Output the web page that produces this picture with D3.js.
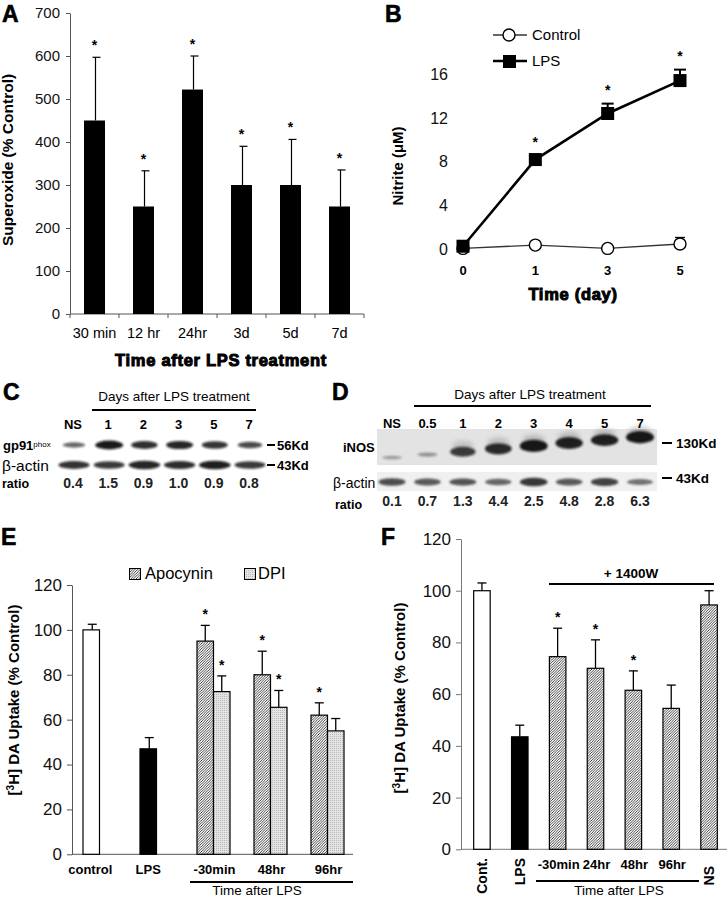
<!DOCTYPE html>
<html><head><meta charset="utf-8">
<script src="https://cdn.jsdelivr.net/npm/d3@7"></script>
<style>
body{margin:0;background:#fff;}
svg{display:block;font-family:"Liberation Sans",Arial,sans-serif;}
</style></head><body>
<script>
// ---------- DATA ----------
const aCategories = ["30 min","12 hr","24hr","3d","5d","7d"];
const aMeans = [450,250,522,300,300,250];
const aErrors = [147,83,78,90,106,85];
const aTicks = [0,100,200,300,400,500,600,700];

const bDays = ["0","1","3","5"];
const bControl = [0.1,0.4,0.1,0.5];
const bControlErr = [0,0,0,0.6];
const bLPS = [0.3,8.2,12.4,15.4];
const bLPSErr = [0,0.3,0.9,1.0];
const bSig = [false,true,true,true];
const bTicks = [0,4,8,12,16];

const cLanes = ["NS","1","2","3","5","7"];
const cRatios = ["0.4","1.5","0.9","1.0","0.9","0.8"];
const cGp91 = [0.45,1.0,0.85,0.9,0.8,0.65];
const cActin = [0.8,0.75,0.9,0.85,0.95,0.75];

const dLanes = ["NS","0.5","1","2","3","4","5","7"];
const dRatios = ["0.1","0.7","1.3","4.4","2.5","4.8","2.8","6.3"];
const dInos = [0.12,0.18,0.75,0.88,1.0,0.95,0.95,1.0];
const dActin = [0.75,0.65,0.7,0.55,0.95,0.65,0.85,0.45];

const eCategories = ["control","LPS","-30min","48hr","96hr"];
const eSingle = [100,47];
const eSingleErr = [2.5,5];
const eTreated = ["-30min","48hr","96hr"];
const eApocynin = [95,80,62];
const eApocyninErr = [7,10.5,5.5];
const eApocyninSig = [true,true,true];
const eDPI = [72.5,65.5,55];
const eDPIErr = [7,7.5,5.5];
const eDPISig = [true,true,false];
const eTicks = [0,20,40,60,80,100,120];

const fCategories = ["Cont.","LPS","-30min","24hr","48hr","96hr","NS"];
const fGroups = ["control","lps","w1400","w1400","w1400","w1400","w1400"];
const fMeans = [100,43.5,74.5,70,61.5,54.5,94.5];
const fErrors = [3,4.5,11,11,7.5,9,5.5];
const fSig = [false,false,true,true,true,false,false];
const fTicks = [0,20,40,60,80,100,120];

// ---------- SVG ----------
const W = 728, H = 899;
const svg = d3.select("body").append("svg").attr("width",W).attr("height",H);
const defs = svg.append("defs");
const P = 2.6;
const hatch = defs.append("pattern").attr("id","hatch").attr("patternUnits","userSpaceOnUse")
  .attr("width",P).attr("height",P);
hatch.append("rect").attr("width",P).attr("height",P).attr("fill","#fff");
hatch.append("path").attr("d",`M-1,1 l2,-2 M0,${P} l${P},-${P} M${P-1},${P+1} l2,-2`).attr("stroke","#1e1e1e").attr("stroke-width",0.85);
const dots = defs.append("pattern").attr("id","dots").attr("patternUnits","userSpaceOnUse")
  .attr("width",2).attr("height",2);
dots.append("rect").attr("width",2).attr("height",2).attr("fill","#e4e4e4");
dots.append("rect").attr("width",1).attr("height",1).attr("fill","#b8b8b8");
defs.append("filter").attr("id","blur").attr("x","-30%").attr("y","-100%").attr("width","160%").attr("height","300%")
  .append("feGaussianBlur").attr("stdDeviation",1.3);
defs.append("filter").attr("id","blur2").attr("x","-30%").attr("y","-100%").attr("width","160%").attr("height","300%")
  .append("feGaussianBlur").attr("stdDeviation",2.5);

function letter(t,x,y){
  svg.append("text").attr("x",x).attr("y",y).text(t).attr("font-size",23).attr("font-weight","bold")
    .attr("stroke","#000").attr("stroke-width",0.6);
}
function heavy(g,t,x,y,size){
  return g.append("text").attr("x",x).attr("y",y).attr("text-anchor","middle").text(t)
   .attr("font-size",size).attr("font-weight","bold").attr("stroke","#000").attr("stroke-width",1)
   .attr("letter-spacing",0.7);
}
function star(g,x,y){
  g.append("text").attr("x",x).attr("y",y).attr("text-anchor","middle").attr("font-size",14)
   .attr("font-weight","bold").text("*");
}
function errBar(g,x,y0,y1,cap,sw){
  g.append("line").attr("x1",x).attr("x2",x).attr("y1",y0).attr("y2",y1).attr("stroke","#000").attr("stroke-width",sw||1.3);
  g.append("line").attr("x1",x-cap/2).attr("x2",x+cap/2).attr("y1",y1).attr("y2",y1).attr("stroke","#000").attr("stroke-width",sw||1.3);
}

// ---------- PANEL A ----------
{
  const g = svg.append("g");
  const x = d3.scaleBand().domain(aCategories).range([70,364]);
  const y = d3.scaleLinear().domain([0,700]).range([314,13]);
  const bw = 21;
  const ax = g.append("g").attr("transform","translate(70,0)")
    .call(d3.axisLeft(y).tickValues(aTicks).tickSize(4).tickSizeOuter(0).tickPadding(6));
  ax.selectAll("text").attr("font-size",15).attr("font-family","Liberation Sans, Arial, sans-serif").attr("fill","#111");
  ax.selectAll("path,line").attr("stroke","#555");
  g.append("line").attr("x1",70).attr("x2",364).attr("y1",y(0)).attr("y2",y(0)).attr("stroke","#555");
  aCategories.concat(["end"]).forEach((c,i)=>{
    const xx = i<aCategories.length ? x(c) : x.range()[1];
    g.append("line").attr("x1",xx).attr("x2",xx).attr("y1",y(0)).attr("y2",y(0)+4).attr("stroke","#555");
  });
  aCategories.forEach((c,i)=>{
    const cx = x(c)+x.bandwidth()/2;
    g.append("rect").attr("x",cx-bw/2).attr("y",y(aMeans[i])).attr("width",bw).attr("height",y(0)-y(aMeans[i])).attr("fill","#000");
    const top = y(aMeans[i]+aErrors[i]);
    g.append("line").attr("x1",cx+1).attr("x2",cx+1).attr("y1",y(aMeans[i])).attr("y2",top).attr("stroke","#000").attr("stroke-width",1.2);
    g.append("line").attr("x1",cx-2).attr("x2",cx+6).attr("y1",top).attr("y2",top).attr("stroke","#000").attr("stroke-width",1.2);
    star(g,cx,top-7);
    g.append("text").attr("x",cx).attr("y",338).attr("text-anchor","middle").attr("font-size",14.5).text(c);
  });
  g.append("text").attr("transform","translate(13,160) rotate(-90)").attr("text-anchor","middle")
    .attr("font-size",15.5).attr("font-weight","bold").text("Superoxide (% Control)");
  heavy(g,"Time after LPS treatment",221,366,16.5);
  letter("A",2,22);
}

// ---------- PANEL B ----------
{
  const g = svg.append("g");
  const x = d3.scalePoint().domain(bDays).range([463,680]);
  const y = d3.scaleLinear().domain([0,16]).range([249.5,74]);
  const ax = g.append("g").attr("transform","translate(463,0)")
    .call(d3.axisLeft(y).tickValues(bTicks).tickSize(0).tickPadding(15));
  ax.select(".domain").remove();
  ax.selectAll("text").attr("font-size",16).attr("font-family","Liberation Sans, Arial, sans-serif").attr("fill","#111");
  bDays.forEach(d=>{
    g.append("text").attr("x",x(d)).attr("y",275).attr("text-anchor","middle").attr("font-size",13).attr("font-weight","bold").text(d);
  });
  const line = d3.line().x((d,i)=>x(bDays[i])).y(d=>y(d));
  bDays.forEach((d,i)=>{ if(bControlErr[i]>0) errBar(g,x(d),y(bControl[i]),y(bControl[i]+bControlErr[i]),10,1.2); });
  g.append("path").datum(bControl).attr("d",line).attr("fill","none").attr("stroke","#333").attr("stroke-width",1.4);
  bDays.forEach((d,i)=>{
    g.append("circle").attr("cx",x(d)).attr("cy",y(bControl[i])).attr("r",6).attr("fill","#fff").attr("stroke","#000").attr("stroke-width",1.4);
  });
  bDays.forEach((d,i)=>{ if(bLPSErr[i]>0) errBar(g,x(d),y(bLPS[i]),y(bLPS[i]+bLPSErr[i]),12,2); });
  g.append("path").datum(bLPS).attr("d",line).attr("fill","none").attr("stroke","#000").attr("stroke-width",2.6);
  bDays.forEach((d,i)=>{
    g.append("rect").attr("x",x(d)-6.5).attr("y",y(bLPS[i])-6.5).attr("width",13).attr("height",13).attr("fill","#000");
    if(bSig[i]) star(g,x(d),y(bLPS[i]+bLPSErr[i])-9);
  });
  g.append("line").attr("x1",493).attr("x2",527).attr("y1",35).attr("y2",35).attr("stroke","#333").attr("stroke-width",1.3);
  g.append("circle").attr("cx",509).attr("cy",35).attr("r",6).attr("fill","#fff").attr("stroke","#000").attr("stroke-width",1.4);
  g.append("text").attr("x",532).attr("y",40).attr("font-size",15).text("Control");
  g.append("line").attr("x1",493).attr("x2",527).attr("y1",61).attr("y2",61).attr("stroke","#000").attr("stroke-width",2.6);
  g.append("rect").attr("x",503).attr("y",55).attr("width",13).attr("height",13).attr("fill","#000");
  g.append("text").attr("x",532).attr("y",66).attr("font-size",15).text("LPS");
  g.append("text").attr("transform","translate(403,166) rotate(-90)").attr("text-anchor","middle")
    .attr("font-size",15).attr("font-weight","bold").text("Nitrite (μM)");
  heavy(g,"Time (day)",573,300,16.5);
  letter("B",385,22);
}

// ---------- PANEL C ----------
{
  const g = svg.append("g");
  const x = d3.scalePoint().domain(cLanes).range([73,249]);
  letter("C",3,400);
  g.append("text").attr("x",174).attr("y",401).attr("text-anchor","middle").attr("font-size",13.5).text("Days after LPS treatment");
  g.append("line").attr("x1",92).attr("x2",256).attr("y1",410).attr("y2",410).attr("stroke","#000").attr("stroke-width",2);
  cLanes.forEach((l,i)=>{
    g.append("text").attr("x",x(l)).attr("y",429).attr("text-anchor","middle").attr("font-size",13).attr("font-weight","bold").text(l);
    g.append("text").attr("x",x(l)).attr("y",488).attr("text-anchor","middle").attr("font-size",14).attr("font-weight","bold").attr("fill","#222").text(cRatios[i]);
    const v = cGp91[i];
    g.append("ellipse").attr("cx",x(l)+1).attr("cy",445).attr("rx",9+5*v).attr("ry",1.2+3.2*v)
      .attr("fill","#111").attr("opacity",0.35+0.6*v).attr("filter","url(#blur)");
    const a = cActin[i];
    g.append("ellipse").attr("cx",x(l)+1).attr("cy",465).attr("rx",14+2*a).attr("ry",2+2.4*a)
      .attr("fill","#111").attr("opacity",0.4+0.55*a).attr("filter","url(#blur)");
  });
  const lab = g.append("text").attr("x",3).attr("y",450).attr("font-size",13).attr("font-weight","bold");
  lab.append("tspan").text("gp91");
  lab.append("tspan").attr("font-size",8).attr("font-weight","normal").attr("dy",-3).text("phox");
  g.append("text").attr("x",2).attr("y",471).attr("font-size",15.5).text("β-actin");
  g.append("text").attr("x",2).attr("y",488).attr("font-size",12.5).attr("font-weight","bold").text("ratio");
  [[445,"56Kd"],[465,"43Kd"]].forEach(([yy,t])=>{
    g.append("line").attr("x1",267).attr("x2",275).attr("y1",yy).attr("y2",yy).attr("stroke","#000").attr("stroke-width",2);
    g.append("text").attr("x",277).attr("y",yy+4.5).attr("font-size",13).attr("font-weight","bold").text(t);
  });
}

// ---------- PANEL D ----------
{
  const g = svg.append("g");
  const x = d3.scalePoint().domain(dLanes).range([392,640]);
  letter("D",332,400);
  g.append("text").attr("x",530).attr("y",399).attr("text-anchor","middle").attr("font-size",13.5).text("Days after LPS treatment");
  g.append("line").attr("x1",414).attr("x2",651).attr("y1",406).attr("y2",406).attr("stroke","#000").attr("stroke-width",2);
  g.append("rect").attr("x",377).attr("y",429).attr("width",280).attr("height",36).attr("fill","#e3e3e3");
  g.append("rect").attr("x",377).attr("y",472).attr("width",280).attr("height",19).attr("fill","#f0f0f0");
  dLanes.forEach((l,i)=>{
    g.append("text").attr("x",x(l)).attr("y",428).attr("text-anchor","middle").attr("font-size",13).attr("font-weight","bold").text(l);
    g.append("text").attr("x",x(l)).attr("y",506).attr("text-anchor","middle").attr("font-size",14).attr("font-weight","bold").attr("fill","#222").text(dRatios[i]);
    const v = dInos[i];
    const cy = 457.5 - i*2.9;
    if(v>0.5){
      g.append("ellipse").attr("cx",x(l)).attr("cy",cy-6).attr("rx",11).attr("ry",5)
        .attr("fill","#333").attr("opacity",0.25*v).attr("filter","url(#blur2)");
    }
    g.append("ellipse").attr("cx",x(l)).attr("cy",cy).attr("rx",9+5*v).attr("ry",1.2+5*v)
      .attr("fill","#111").attr("opacity",0.25+0.7*v).attr("filter","url(#blur)");
    const a = dActin[i];
    g.append("ellipse").attr("cx",x(l)).attr("cy",482).attr("rx",12+2*a).attr("ry",1.8+2.6*a)
      .attr("fill","#1a1a1a").attr("opacity",0.35+0.55*a).attr("filter","url(#blur)");
  });
  g.append("text").attr("x",343).attr("y",452).attr("font-size",13).attr("font-weight","bold").text("iNOS");
  g.append("text").attr("x",333).attr("y",488).attr("font-size",14).text("β-actin");
  g.append("text").attr("x",335).attr("y",509).attr("font-size",12.5).attr("font-weight","bold").text("ratio");
  [[443,"130Kd"],[478,"43Kd"]].forEach(([yy,t])=>{
    g.append("line").attr("x1",662).attr("x2",672).attr("y1",yy).attr("y2",yy).attr("stroke","#000").attr("stroke-width",2);
    g.append("text").attr("x",676).attr("y",yy+4.5).attr("font-size",13.5).attr("font-weight","bold").text(t);
  });
}

// ---------- PANEL E ----------
{
  const g = svg.append("g");
  const x = d3.scaleBand().domain(eCategories).range([71,356]);
  const y = d3.scaleLinear().domain([0,120]).range([854.3,585]);
  const bw = 16.5;
  const ax = g.append("g").attr("transform","translate(72,0)")
    .call(d3.axisLeft(y).tickValues(eTicks).tickSize(5).tickSizeOuter(0).tickPadding(5));
  ax.selectAll("text").attr("font-size",17).attr("font-family","Liberation Sans, Arial, sans-serif").attr("fill","#111");
  ax.selectAll("path,line").attr("stroke","#555");
  g.append("line").attr("x1",72).attr("x2",353).attr("y1",y(0)).attr("y2",y(0)).attr("stroke","#555");
  const c = cat => x(cat)+x.bandwidth()/2;
  ["control","LPS"].forEach((cat,i)=>{
    const x0 = c(cat)-bw;
    errBar(g,x0+bw/2+1,y(eSingle[i]),y(eSingle[i]+eSingleErr[i]),9,1.3);
    g.append("rect").attr("x",x0).attr("y",y(eSingle[i])).attr("width",bw).attr("height",y(0)-y(eSingle[i]))
      .attr("fill",i===0?"#fff":"#000").attr("stroke","#000").attr("stroke-width",1.2);
  });
  eTreated.forEach((cat,i)=>{
    const xa = c(cat)-bw, xd = c(cat);
    errBar(g,xa+bw/2,y(eApocynin[i]),y(eApocynin[i]+eApocyninErr[i]),9,1.3);
    errBar(g,xd+bw/2,y(eDPI[i]),y(eDPI[i]+eDPIErr[i]),9,1.3);
    g.append("rect").attr("x",xa).attr("y",y(eApocynin[i])).attr("width",bw).attr("height",y(0)-y(eApocynin[i]))
      .attr("fill","url(#hatch)").attr("stroke","#000").attr("stroke-width",1.2);
    g.append("rect").attr("x",xd).attr("y",y(eDPI[i])).attr("width",bw).attr("height",y(0)-y(eDPI[i]))
      .attr("fill","url(#dots)").attr("stroke","#000").attr("stroke-width",1.2);
    if(eApocyninSig[i]) star(g,xa+bw/2,y(eApocynin[i]+eApocyninErr[i])-6);
    if(eDPISig[i]) star(g,xd+bw/2,y(eDPI[i]+eDPIErr[i])-6);
  });
  const labX = {"control":c("control")-bw/2-1,"LPS":c("LPS")-bw/2};
  eCategories.forEach(cat=>{
    const xx = labX[cat]!==undefined ? labX[cat] : c(cat)+1;
    g.append("text").attr("x",xx).attr("y",874).attr("text-anchor","middle").attr("font-size",13).attr("font-weight","bold").text(cat);
  });
  g.append("line").attr("x1",190).attr("x2",353).attr("y1",882).attr("y2",882).attr("stroke","#000").attr("stroke-width",2);
  g.append("text").attr("x",257).attr("y",895).attr("text-anchor","middle").attr("font-size",13.5).text("Time after LPS");
  g.append("rect").attr("x",129.5).attr("y",568.5).attr("width",11).attr("height",11).attr("fill","url(#hatch)").attr("stroke","#000");
  g.append("text").attr("x",145).attr("y",579).attr("font-size",16.5).text("Apocynin");
  g.append("rect").attr("x",244.5).attr("y",568.5).attr("width",11).attr("height",11).attr("fill","url(#dots)").attr("stroke","#000");
  g.append("text").attr("x",258).attr("y",579).attr("font-size",16.5).text("DPI");
  const yl = g.append("text").attr("transform","translate(19,700) rotate(-90)").attr("text-anchor","middle")
    .attr("font-size",15).attr("font-weight","bold");
  yl.append("tspan").text("[");
  yl.append("tspan").attr("font-size",10).attr("dy",-5).text("3");
  yl.append("tspan").attr("dy",5).text("H] DA Uptake (% Control)");
  letter("E",1,545);
}

// ---------- PANEL F ----------
{
  const g = svg.append("g");
  const x = d3.scaleBand().domain(fCategories).range([463,728]);
  const y = d3.scaleLinear().domain([0,120]).range([849.3,539]);
  const bw = 16.5;
  const ax = g.append("g").attr("transform","translate(461,0)")
    .call(d3.axisLeft(y).tickValues(fTicks).tickSize(5).tickSizeOuter(0).tickPadding(5));
  ax.selectAll("text").attr("font-size",17).attr("font-family","Liberation Sans, Arial, sans-serif").attr("fill","#111");
  ax.selectAll("path,line").attr("stroke","#777");
  g.append("line").attr("x1",461).attr("x2",727).attr("y1",y(0)).attr("y2",y(0)).attr("stroke","#777");
  const fillOf = {control:"#fff", lps:"#000", w1400:"url(#hatch)"};
  fCategories.forEach((cat,i)=>{
    const cx = x(cat)+x.bandwidth()/2;
    errBar(g,cx,y(fMeans[i]),y(fMeans[i]+fErrors[i]),9,1.3);
    g.append("rect").attr("x",cx-bw/2).attr("y",y(fMeans[i])).attr("width",bw).attr("height",y(0)-y(fMeans[i]))
      .attr("fill",fillOf[fGroups[i]]).attr("stroke","#000").attr("stroke-width",1.2);
    if(fSig[i]) star(g,cx,y(fMeans[i]+fErrors[i])-6);
    if(["Cont.","LPS","NS"].includes(cat)){
      g.append("text").attr("transform",`translate(${cx+5},${cat==="NS"?866:858}) rotate(-90)`).attr("text-anchor","end")
        .attr("font-size",14).attr("font-weight","bold").text(cat);
    } else {
      g.append("text").attr("x",cx+1).attr("y",869).attr("text-anchor","middle").attr("font-size",13).attr("font-weight","bold").text(cat);
    }
  });
  g.append("line").attr("x1",549).attr("x2",714).attr("y1",584).attr("y2",584).attr("stroke","#000").attr("stroke-width",2);
  g.append("text").attr("x",631).attr("y",578).attr("text-anchor","middle").attr("font-size",13.5).attr("font-weight","bold").text("+ 1400W");
  g.append("line").attr("x1",536).attr("x2",699).attr("y1",881).attr("y2",881).attr("stroke","#000").attr("stroke-width",2);
  g.append("text").attr("x",619).attr("y",895).attr("text-anchor","middle").attr("font-size",13.5).text("Time after LPS");
  const yl = g.append("text").attr("transform","translate(405,698) rotate(-90)").attr("text-anchor","middle")
    .attr("font-size",15).attr("font-weight","bold");
  yl.append("tspan").text("[");
  yl.append("tspan").attr("font-size",10).attr("dy",-5).text("3");
  yl.append("tspan").attr("dy",5).text("H] DA Uptake (% Control)");
  letter("F",381,545);
}
</script>
</body></html>
